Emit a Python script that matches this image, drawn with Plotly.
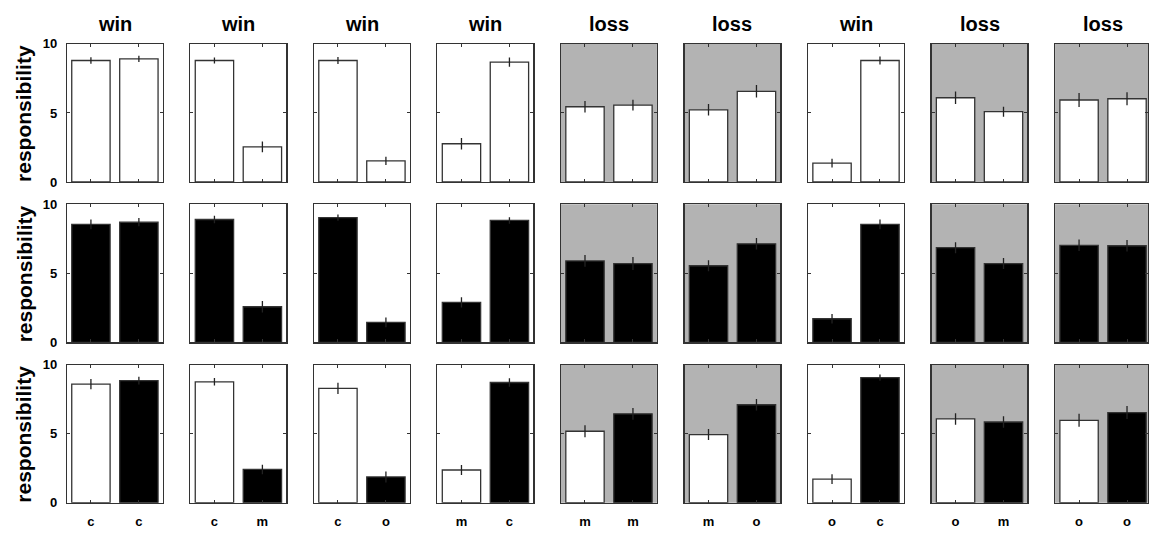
import plotly.graph_objects as go

# ---------------- data ----------------
titles = ['win', 'win', 'win', 'win', 'loss', 'loss', 'win', 'loss', 'loss']
labels_first = ['c', 'c', 'c', 'm', 'm', 'm', 'o', 'o', 'o']
labels_second = ['c', 'm', 'o', 'c', 'm', 'o', 'c', 'm', 'o']

row1_a = [8.80, 8.80, 8.80, 2.77, 5.45, 5.23, 1.36, 6.10, 5.94]
row1_b = [8.92, 2.54, 1.53, 8.68, 5.56, 6.57, 8.80, 5.09, 6.03]
row1_err_a = [0.23, 0.22, 0.25, 0.41, 0.41, 0.41, 0.32, 0.45, 0.50]
row1_err_b = [0.23, 0.39, 0.30, 0.33, 0.39, 0.45, 0.29, 0.36, 0.47]

row2_a = [8.55, 8.90, 9.04, 2.90, 5.90, 5.55, 1.71, 6.86, 7.03]
row2_b = [8.71, 2.58, 1.45, 8.83, 5.71, 7.14, 8.55, 5.71, 7.00]
row2_err_a = [0.35, 0.28, 0.23, 0.37, 0.42, 0.40, 0.35, 0.40, 0.42]
row2_err_b = [0.30, 0.42, 0.35, 0.23, 0.47, 0.42, 0.35, 0.40, 0.42]

row3_a = [8.59, 8.76, 8.29, 2.37, 5.18, 4.94, 1.71, 6.07, 5.97]
row3_b = [8.85, 2.41, 1.87, 8.71, 6.44, 7.10, 9.06, 5.85, 6.53]
row3_err_a = [0.37, 0.27, 0.41, 0.36, 0.43, 0.40, 0.35, 0.42, 0.47]
row3_err_b = [0.28, 0.35, 0.40, 0.30, 0.42, 0.42, 0.23, 0.42, 0.47]

y_title = 'responsibility'
y_ticks = [0, 5, 10]

rows = [
    (row1_a, row1_b, row1_err_a, row1_err_b, ['white', 'white']),
    (row2_a, row2_b, row2_err_a, row2_err_b, ['black', 'black']),
    (row3_a, row3_b, row3_err_a, row3_err_b, ['white', 'black']),
]

# ---------------- layout geometry (pixels) ----------------
W, H = 1149, 536
col_left0, col_pitch, col_w = 67.0, 123.625, 96.0
row_top0, row_pitch, row_h = 38.0, 165.0, 142.0
LOSS_BG = '#b3b3b3'
LINE = '#333333'
FONT = 'Liberation Sans, Arial, Helvetica, sans-serif'

fig = go.Figure()
layout = dict(
    width=W, height=H,
    margin=dict(l=0, r=0, t=0, b=0),
    paper_bgcolor='white', plot_bgcolor='rgba(0,0,0,0)',
    showlegend=False,
    font=dict(family=FONT, color='black'),
    bargap=0,
)
shapes = []
annotations = []

for r, (va, vb, ea, eb, colors) in enumerate(rows):
    top = row_top0 + r * row_pitch
    bot = top + row_h
    ydom = [1 - bot / H, 1 - top / H]
    for c in range(9):
        k = r * 9 + c + 1
        xa = 'x' if k == 1 else f'x{k}'
        ya = 'y' if k == 1 else f'y{k}'
        left = col_left0 + c * col_pitch
        right = left + col_w
        xmax = 2.5
        if right > W:
            xmax = 0.5 + 2.0 * (W - left) / col_w
            right = W
        xdom = [left / W, right / W]

        fig.add_trace(go.Bar(
            x=[1, 2], y=[va[c], vb[c]], width=0.8,
            marker=dict(color=colors, line=dict(color=LINE, width=1.3)),
            error_y=dict(type='data', array=[ea[c], eb[c]], symmetric=True,
                         color='#222222', thickness=1.3, width=0),
            xaxis=xa, yaxis=ya, hoverinfo='skip',
        ))

        show_x = (r == 2)
        show_y = (c == 0)
        layout['xaxis' if k == 1 else f'xaxis{k}'] = dict(
            domain=xdom, anchor=ya, range=[0.5, xmax],
            tickvals=[1, 2], ticktext=[labels_first[c], labels_second[c]],
            showticklabels=show_x, ticks='inside', ticklen=3, tickcolor=LINE,
            tickfont=dict(size=13, family=FONT, weight='bold', color='black'),
            ticklabelstandoff=6,
            showline=True, linecolor=LINE, linewidth=1.2, mirror='ticks',
            showgrid=False, zeroline=False, fixedrange=True,
        )
        layout['yaxis' if k == 1 else f'yaxis{k}'] = dict(
            domain=ydom, anchor=xa, range=[0, 10],
            tickvals=y_ticks, ticktext=[str(v) for v in y_ticks],
            showticklabels=show_y, ticks='inside', ticklen=3, tickcolor=LINE,
            tickfont=dict(size=13, family=FONT, weight='bold', color='black'),
            ticklabelstandoff=6,
            showline=True, linecolor=LINE, linewidth=1.2, mirror='ticks',
            showgrid=False, zeroline=False, fixedrange=True,
        )

        if titles[c] == 'loss':
            shapes.append(dict(type='rect', xref=f'{xa} domain', yref=f'{ya} domain',
                               x0=0, x1=1, y0=0, y1=1, fillcolor=LOSS_BG,
                               line=dict(width=0), layer='below'))
        if r == 0:
            annotations.append(dict(
                text=f'<b>{titles[c]}</b>', x=(left + col_w / 2) / W, y=1 - 18 / H,
                xref='paper', yref='paper', showarrow=False,
                font=dict(size=20, family=FONT, color='black'),
                xanchor='center', yanchor='middle'))
    annotations.append(dict(
        text=f'<b>{y_title}</b>', x=24 / W, y=1 - (top + row_h / 2) / H,
        xref='paper', yref='paper', showarrow=False, textangle=-90,
        font=dict(size=21, family=FONT, color='black'),
        xanchor='center', yanchor='middle'))

layout['shapes'] = shapes
layout['annotations'] = annotations
fig.update_layout(**layout)
fig.write_html('out.html',
               config={'displayModeBar': False, 'staticPlot': True},
               post_script="document.body.style.margin='0';"
                           "document.body.style.overflow='hidden';")
